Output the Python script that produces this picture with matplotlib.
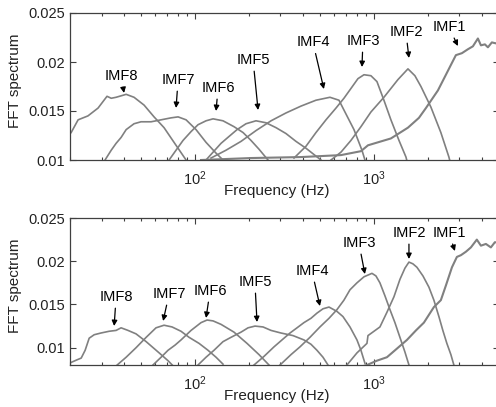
import numpy as np
import matplotlib
matplotlib.use('Agg')
import matplotlib.pyplot as plt
import matplotlib.ticker as ticker

plt.rcParams['font.family'] = ['Liberation Sans', 'DejaVu Sans']
plt.rcParams['mathtext.fontset'] = 'custom'
plt.rcParams['mathtext.rm'] = 'Liberation Sans'
fontsz = 10.5

line_color = '#808080'
axis_color = '#404040'

# ---- upper panel ----
top_imf8_hz = [20.3, 22.2, 25.2, 28.7, 32.2, 34.0, 36.2, 41.2, 45.6, 51.9, 59.0, 67.1, 76.3, 89.1, 95.0]
top_imf8_amp = [0.0128, 0.0141, 0.0145, 0.0153, 0.0165, 0.0163, 0.0164, 0.0167, 0.0164, 0.0156, 0.0144, 0.0133, 0.0118, 0.0100, 0.0094]
top_imf7_hz = [31.4, 34.0, 36.2, 38.6, 41.2, 45.6, 49.9, 56.8, 64.6, 73.4, 80.4, 89.1, 101.3, 115.2, 131.0, 143.3, 150.9]
top_imf7_amp = [0.0100, 0.0110, 0.0117, 0.0123, 0.0131, 0.0137, 0.0139, 0.0139, 0.0141, 0.0143, 0.0144, 0.0141, 0.0131, 0.0118, 0.0107, 0.0100, 0.0095]
top_imf6_hz = [71.6, 78.3, 85.7, 95.0, 103.9, 115.2, 126.1, 143.3, 165.1, 185.5, 205.4, 227.8, 255.7, 265.9]
top_imf6_amp = [0.0100, 0.0110, 0.0120, 0.0129, 0.0136, 0.0140, 0.0142, 0.0140, 0.0134, 0.0128, 0.0120, 0.0111, 0.0100, 0.0096]
top_imf5_hz = [115.2, 126.1, 139.7, 154.8, 171.7, 192.7, 219.1, 249.2, 283.5, 322.3, 366.6, 416.9, 474.1, 505.7, 526.0]
top_imf5_amp = [0.0100, 0.0108, 0.0117, 0.0124, 0.0131, 0.0137, 0.0140, 0.0138, 0.0133, 0.0127, 0.0119, 0.0112, 0.0104, 0.0100, 0.0096]
top_imf4_hz = [122.8, 149.0, 180.7, 219.1, 265.9, 322.3, 391.0, 474.1, 567.6, 637.5, 679.6, 773.3, 856.9, 890.5, 925.0]
top_imf4_amp = [0.0102, 0.0110, 0.0119, 0.0130, 0.0140, 0.0148, 0.0155, 0.0161, 0.0164, 0.0161, 0.0151, 0.0131, 0.0110, 0.0100, 0.0094]
top_imf3_hz = [357.4, 416.9, 474.1, 539.4, 613.5, 679.6, 743.8, 813.8, 879.6, 961.9, 1039.4, 1137, 1244, 1380, 1510, 1549]
top_imf3_amp = [0.0102, 0.0114, 0.0128, 0.0141, 0.0153, 0.0163, 0.0173, 0.0183, 0.0187, 0.0186, 0.0180, 0.0161, 0.0141, 0.0120, 0.0103, 0.0095]
top_imf2_hz = [575.4, 654, 743.8, 845.9, 961.9, 1137, 1361, 1549, 1694, 1831, 2081, 2366, 2624, 2692]
top_imf2_amp = [0.0100, 0.0108, 0.0120, 0.0134, 0.0149, 0.0164, 0.0182, 0.0193, 0.0186, 0.0175, 0.0154, 0.0128, 0.0103, 0.0095]
top_imf1_hz = [108.0, 205.5, 391, 654, 845.9, 926, 1244, 1549, 1784, 1952, 2278, 2525, 2692, 2871,
               3102, 3350, 3573, 3811, 3962, 4170, 4335, 4561, 4806, 5058]
top_imf1_amp = [0.0100, 0.0102, 0.0103, 0.0105, 0.0109, 0.0115, 0.0122, 0.0133, 0.0143, 0.0153, 0.0171, 0.0187, 0.0197, 0.0207,
                0.0209, 0.0213, 0.0216, 0.0224, 0.0217, 0.0218, 0.0215, 0.0220, 0.0219, 0.0222]

# ---- lower panel ----
bot_imf8_hz = [20.3, 21.9, 23.1, 24.3, 25.6, 27.3, 29.8, 33.1, 36.2, 38.6, 42.2, 46.8, 53.3, 63.0, 70.6, 75.4]
bot_imf8_amp = [0.0083, 0.0086, 0.0088, 0.0097, 0.0111, 0.0115, 0.0117, 0.0119, 0.0120, 0.0123, 0.0120, 0.0116, 0.0107, 0.0094, 0.0085, 0.0079]
bot_imf7_hz = [36.7, 41.2, 46.8, 53.3, 60.5, 67.1, 74.4, 83.5, 92.6, 105.3, 118.2, 131.0, 143.3]
bot_imf7_amp = [0.0080, 0.0089, 0.0100, 0.0112, 0.0123, 0.0126, 0.0124, 0.0119, 0.0112, 0.0105, 0.0097, 0.0089, 0.0081]
bot_imf6_hz = [58.2, 64.6, 70.6, 77.3, 83.5, 95.0, 108.0, 116.7, 126.1, 139.7, 165.1, 195.2, 227.8, 259.0]
bot_imf6_amp = [0.0080, 0.0089, 0.0097, 0.0103, 0.0109, 0.0120, 0.0129, 0.0132, 0.0131, 0.0127, 0.0118, 0.0105, 0.0092, 0.0080]
bot_imf5_hz = [103.9, 115.2, 127.6, 143.3, 158.8, 180.7, 197.8, 216.3, 239.9, 265.9, 302.2, 352.8, 406.1, 444.5, 480.3, 518.9, 553.4]
bot_imf5_amp = [0.0080, 0.0089, 0.0097, 0.0107, 0.0112, 0.0118, 0.0123, 0.0125, 0.0124, 0.0120, 0.0117, 0.0114, 0.0109, 0.0104, 0.0097, 0.0089, 0.0080]
bot_imf4_hz = [213.6, 243.0, 276.3, 306.2, 339.5, 371.5, 406.1, 444.5, 480.3, 518.9, 560.7, 621.0, 671.1, 734.6, 803.5, 845.9, 890.5]
bot_imf4_amp = [0.0080, 0.0090, 0.0101, 0.0109, 0.0117, 0.0123, 0.0129, 0.0134, 0.0140, 0.0145, 0.0147, 0.0142, 0.0136, 0.0124, 0.0109, 0.0097, 0.0082]
bot_imf3_hz = [298.5, 343.8, 386.0, 438.8, 499.0, 560.7, 621.0, 679.6, 734.6, 803.5, 879.6, 974.8, 1026, 1080, 1152, 1229, 1310, 1397, 1490, 1569]
bot_imf3_amp = [0.0080, 0.0092, 0.0101, 0.0112, 0.0124, 0.0134, 0.0144, 0.0155, 0.0167, 0.0175, 0.0182, 0.0186, 0.0183, 0.0175, 0.0160, 0.0144, 0.0129, 0.0112, 0.0095, 0.0080]
bot_imf2_hz = [706.3, 803.5, 913.9, 926, 1080, 1182, 1294, 1397, 1490, 1569, 1651, 1739, 1879, 2029, 2163, 2307, 2427, 2556, 2692, 2797]
bot_imf2_amp = [0.0080, 0.0094, 0.0105, 0.0114, 0.0124, 0.0141, 0.0159, 0.0179, 0.0192, 0.0199, 0.0197, 0.0193, 0.0183, 0.0170, 0.0155, 0.0136, 0.0120, 0.0105, 0.0092, 0.0080]
bot_imf1_hz = [845.9, 913.9, 1039, 1182, 1345, 1529, 1717, 1902, 2163, 2366, 2525, 2729, 2908, 3063, 3266,
               3483, 3758, 3962, 4224, 4504, 4742, 5058]
bot_imf1_amp = [0.0078, 0.0080, 0.0085, 0.0089, 0.0099, 0.0109, 0.0120, 0.0129, 0.0147, 0.0155, 0.0172, 0.0193, 0.0205, 0.0207, 0.0211,
                0.0216, 0.0225, 0.0218, 0.0220, 0.0216, 0.0222, 0.0221]

imf_names = ['IMF1', 'IMF2', 'IMF3', 'IMF4', 'IMF5', 'IMF6', 'IMF7', 'IMF8']

top_curves = [(top_imf1_hz, top_imf1_amp), (top_imf2_hz, top_imf2_amp), (top_imf3_hz, top_imf3_amp),
              (top_imf4_hz, top_imf4_amp), (top_imf5_hz, top_imf5_amp), (top_imf6_hz, top_imf6_amp),
              (top_imf7_hz, top_imf7_amp), (top_imf8_hz, top_imf8_amp)]
bot_curves = [(bot_imf1_hz, bot_imf1_amp), (bot_imf2_hz, bot_imf2_amp), (bot_imf3_hz, bot_imf3_amp),
              (bot_imf4_hz, bot_imf4_amp), (bot_imf5_hz, bot_imf5_amp), (bot_imf6_hz, bot_imf6_amp),
              (bot_imf7_hz, bot_imf7_amp), (bot_imf8_hz, bot_imf8_amp)]

# label position, arrow tip  (IMF1..IMF8)
top_notes = [((2624, 0.02357), (2946, 0.02163)),
             ((1509, 0.02306), (1569, 0.02041)),
             ((868, 0.02214), (857, 0.01949)),
             ((456, 0.0220), (525, 0.01724)),
             ((211, 0.0202), (225, 0.0151)),
             ((134.5, 0.01735), (131, 0.0150)),
             ((80.4, 0.01816), (78.3, 0.01531)),
             ((38.6, 0.01857), (40.1, 0.01684))]
bot_notes = [((2624, 0.02327), (2835, 0.02118)),
             ((1569, 0.02327), (1569, 0.02026)),
             ((824, 0.02211), (890, 0.01852)),
             ((450, 0.01887), (499, 0.01482)),
             ((216, 0.0176), (222, 0.01297)),
             ((121.3, 0.01656), (115.2, 0.01344)),
             ((71.6, 0.01621), (66.3, 0.01309)),
             ((36.2, 0.01586), (35.3, 0.01251))]


def draw_panel(ax, curves, notes, ylim):
    for i, (f, a) in enumerate(curves):
        ax.plot(f, a, color=line_color, lw=1.5 if i == 0 else 1.2)
    ax.set_xscale('log')
    ax.set_xlim(20, 5000)
    ax.set_ylim(*ylim)
    ax.set_yticks([0.01, 0.015, 0.02, 0.025])
    ax.yaxis.set_major_formatter(ticker.FormatStrFormatter('%g'))
    ax.xaxis.set_major_locator(ticker.FixedLocator([100, 1000]))
    ax.xaxis.set_minor_locator(ticker.LogLocator(base=10, subs=np.arange(2, 10)))
    ax.xaxis.set_minor_formatter(ticker.NullFormatter())
    ax.tick_params(which='both', direction='in', top=True, right=True,
                   colors=axis_color, labelcolor='#222222', labelsize=fontsz, width=0.8)
    ax.tick_params(which='major', length=4)
    ax.tick_params(which='minor', length=2.5)
    ax.tick_params(axis='x', which='major', pad=7)
    for s in ax.spines.values():
        s.set_color(axis_color)
        s.set_linewidth(0.9)
    ax.set_xlabel('Frequency (Hz)', fontsize=11, color='#222222')
    ax.set_ylabel('FFT spectrum', fontsize=11, color='#222222')
    ax.xaxis.set_label_coords(0.483, -0.165)
    ax.yaxis.set_label_coords(-0.113, 0.54)
    for name, (txt, tip) in zip(imf_names, notes):
        ax.annotate(name, xy=tip, xytext=txt, ha='center', va='center', fontsize=fontsz,
                    arrowprops=dict(arrowstyle='-|>', color='black', lw=0.9,
                                    mutation_scale=8, shrinkA=1, shrinkB=0))


fig = plt.figure(figsize=(4.96, 4.07), dpi=100)
ax1 = fig.add_axes([70 / 496, 1 - 160 / 407, 429 / 496, 147 / 407])
ax2 = fig.add_axes([70 / 496, 1 - 365 / 407, 429 / 496, 147 / 407])
draw_panel(ax1, top_curves, top_notes, (0.01, 0.025))
draw_panel(ax2, bot_curves, bot_notes, (0.008, 0.025))

fig.savefig('out.png', dpi=100)
